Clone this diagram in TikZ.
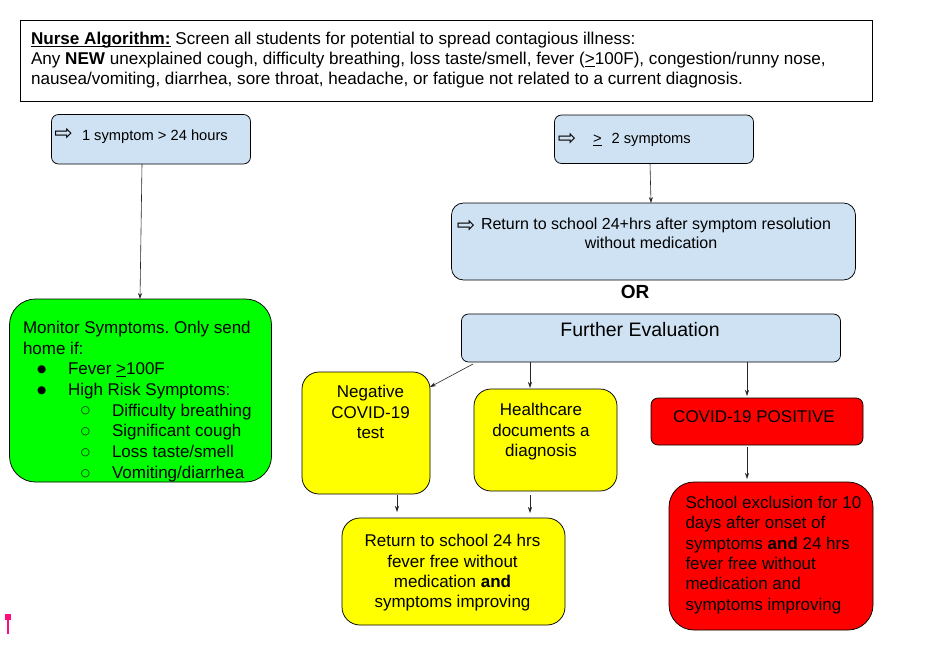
\documentclass[tikz,border=0pt]{standalone}
\usepackage{fontspec}
\setmainfont{Liberation Sans}
\newfontfamily\djv{DejaVu Sans}
\usetikzlibrary{arrows.meta,calc}
\definecolor{lblue}{HTML}{CFE2F3}
\definecolor{lgreen}{HTML}{00FF00}
\definecolor{lyellow}{HTML}{FFFF00}
\definecolor{lred}{HTML}{FF0000}
\definecolor{markpink}{HTML}{FF0A7F}
\frenchspacing
\newcommand\mlines[2]{\begin{tabular}[t]{@{}#1@{}}#2\end{tabular}}
\newcommand\myfs[2]{\fontsize{#1}{#2}\selectfont}
\newcommand\warr{{\djv ⇨}}
\newcommand\myul[1]{\setbox0\hbox{#1}\rlap{\rule[-2.6pt]{\wd0}{1.1pt}}\box0\relax}
\newcommand\mybul{\hspace*{14pt}\makebox[31pt][l]{\raisebox{2.2pt}{\djv\myfs{10.5}{12}●}}}
\newcommand\mycir{\hspace*{58pt}\makebox[31pt][l]{\raisebox{2.2pt}{\djv\myfs{10.5}{12}○}}}
\begin{document}
\begin{tikzpicture}[x=1pt,y=-1pt,
  box/.style={draw=black, line width=0.75pt, inner sep=0pt, outer sep=0pt, anchor=north west},
  conn/.style={draw=black!85, line width=0.6pt, -{Stealth[length=6pt,width=4pt]}},
  txt/.style={inner sep=0pt, outer sep=0pt, text=black},
  arr/.style={inner sep=0pt, outer sep=0pt, font=\myfs{22}{24}}]
\fill[white] (0,0) rectangle (952,646);
\useasboundingbox (0,0) rectangle (952,646);

% boxes
\node[box, minimum width=852pt, minimum height=81pt] (hdr) at (20,20) {};
\node[box, fill=lblue, rounded corners=7pt, minimum width=199pt, minimum height=49.5pt] (one) at (51.5,114.5) {};
\node[box, fill=lblue, rounded corners=7pt, minimum width=199pt, minimum height=48.5pt] (two) at (554.5,115) {};
\node[box, fill=lblue, rounded corners=12pt, minimum width=404pt, minimum height=77pt] (ret1) at (451.5,203) {};
\node[box, fill=lblue, rounded corners=7pt, minimum width=379pt, minimum height=48pt] (fe) at (461.5,314) {};
\node[box, fill=lgreen, rounded corners=26pt, minimum width=262pt, minimum height=183pt] (mon) at (9.5,299) {};
\node[box, fill=lyellow, rounded corners=17pt, minimum width=128pt, minimum height=122pt] (neg) at (302,372) {};
\node[box, fill=lyellow, rounded corners=17pt, minimum width=143pt, minimum height=102pt] (hc) at (474,389) {};
\node[box, fill=lred, rounded corners=7pt, minimum width=212pt, minimum height=47pt] (pos) at (651,398) {};
\node[box, fill=lyellow, rounded corners=18pt, minimum width=223pt, minimum height=107pt] (ret2) at (342,518) {};
\node[box, fill=lred, rounded corners=25pt, minimum width=204pt, minimum height=148pt] (excl) at (669,482) {};

% header text
\node[txt, anchor=base west, font=\myfs{17.1}{20}] (h1) at (31,44.5) {\myul{\textbf{Nurse Algorithm:}} Screen all students for potential to spread contagious illness:};
\node[txt, anchor=base west, font=\myfs{17.1}{20}] (h2) at (31,64.5) {Any \textbf{NEW} unexplained cough, difficulty breathing, loss taste/smell, fever (\myul{>}100F), congestion/runny nose,};
\node[txt, anchor=base west, font=\myfs{17.1}{20}] (h3) at (31,84.5) {nausea/vomiting, diarrhea, sore throat, headache, or fatigue not related to a current diagnosis.};

% blue boxes text
\node[arr] (onea) at (63.5,134.5) {\warr};
\node[txt, anchor=base west, font=\myfs{14.7}{17}] (onet) at (82,140) {1 symptom > 24 hours};
\node[arr] (twoa) at (567,139) {\warr};
\node[txt, anchor=base west, font=\myfs{14.7}{17}] (twot) at (593,143) {\myul{>}\hspace{10pt}2 symptoms};
\node[arr] (ret1a) at (466,226.5) {\warr};
\node[txt, anchor=base west, font=\myfs{16}{19}] (ret1t) at (481,229.5) {Return to school 24+hrs after symptom resolution};
\node[txt, anchor=base, font=\myfs{16}{19}] (ret1u) at (651,248.5) {without medication};
\node[txt, anchor=base, font=\myfs{19}{22}] (ortxt) at (635,298.3) {\textbf{OR}};
\node[txt, anchor=base, font=\myfs{19.5}{22}] (fet) at (640,336.7) {Further Evaluation};

% green box
\node[txt, anchor=base west, font=\myfs{17}{20.7}] (mont) at (23,333.3) {\mlines{l}{Monitor Symptoms. Only send\\home if:\\\mybul Fever \myul{>}100F\\\mybul High Risk Symptoms:\\\mycir Difficulty breathing\\\mycir Significant cough\\\mycir Loss taste/smell\\\mycir Vomiting/diarrhea}};

% yellow and red texts
\node[txt, anchor=base, font=\myfs{17}{20.4}] (negt) at (370.5,397.7) {\mlines{c}{Negative\\COVID-19\\test}};
\node[txt, anchor=base, font=\myfs{17}{20.5}] (hct) at (541,415.5) {\mlines{c}{Healthcare\\documents a\\diagnosis}};
\node[txt, anchor=base, font=\myfs{17}{20}] (post) at (754,422.7) {COVID-19 POSITIVE};
\node[txt, anchor=base, font=\myfs{17}{20.3}] (ret2t) at (452.5,546.7) {\mlines{c}{Return to school 24 hrs\\fever free without\\medication \textbf{and}\\symptoms improving}};
\node[txt, anchor=base west, font=\myfs{17}{20.35}] (exclt) at (685.5,508.3) {\mlines{l}{School exclusion for 10\\days after onset of\\symptoms \textbf{and} 24 hrs\\fever free without\\medication and\\symptoms improving}};

% connectors
\draw[conn] ($(one.south west)+(90.5,0)$) -- ($(mon.north west)+(130.5,0)$);
\draw[conn] ($(two.south west)+(95.5,0)$) -- ($(ret1.north west)+(199.5,0)$);
\draw[conn] ($(fe.south west)+(11.5,2)$) -- ($(neg.north east)+(0,15)$);
\draw[conn] ($(fe.south west)+(68.5,0)$) -- ($(hc.north west)+(56,-1)$);
\draw[conn] ($(fe.south west)+(285.5,0)$) -- ($(pos.north west)+(96,-2)$);
\draw[conn] ($(pos.south west)+(96,2)$) -- ($(excl.north west)+(78,-3)$);
\draw[conn] ($(neg.south west)+(95,1)$) -- ($(ret2.north west)+(55,-6)$);
\draw[conn] ($(hc.south west)+(56,4)$) -- ($(ret2.north west)+(188,-5)$);

% pink marker
\fill[markpink] (5,614) rectangle (11,620);
\fill[markpink] (6.7,620) rectangle (9,634);
\end{tikzpicture}
\end{document}
